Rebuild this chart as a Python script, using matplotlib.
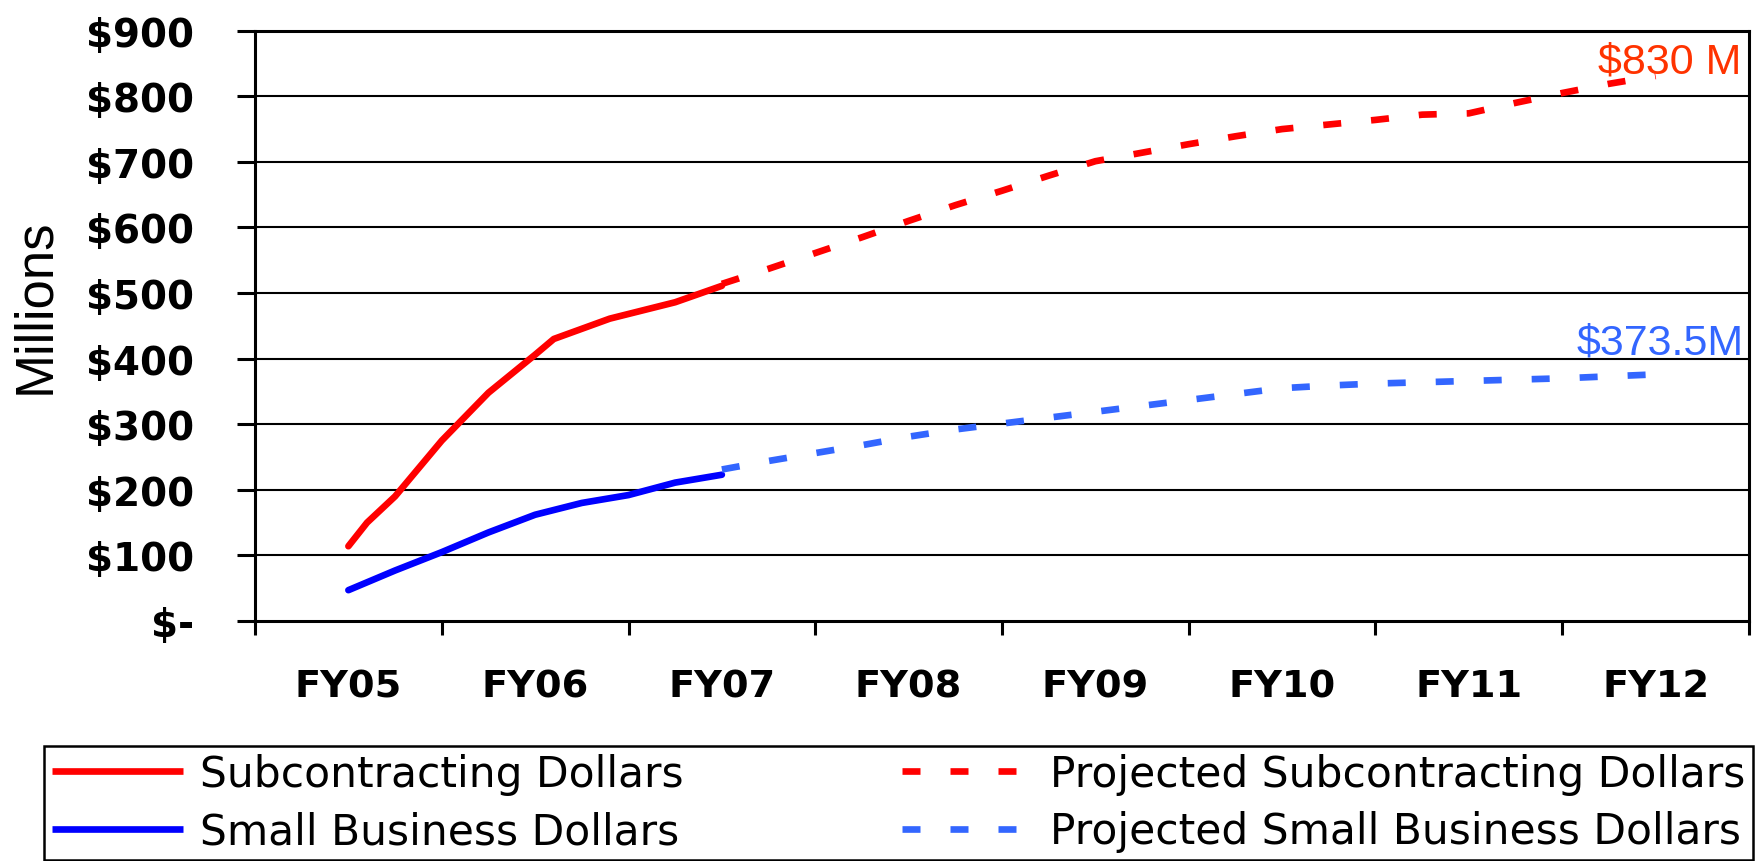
import matplotlib
matplotlib.use("Agg")
import matplotlib.pyplot as plt
from matplotlib.lines import Line2D
from matplotlib import font_manager as fm

# ---------------- data ----------------
fiscal_years = ["FY05", "FY06", "FY07", "FY08", "FY09", "FY10", "FY11", "FY12"]
y_ticks = [0, 100, 200, 300, 400, 500, 600, 700, 800, 900]
y_tick_labels = ["$-", "$100", "$200", "$300", "$400", "$500", "$600", "$700", "$800", "$900"]

# time in fiscal years after FY05
sub_time = [0, 0.1, 0.25, 0.5, 0.75, 1.0, 1.1, 1.4, 1.75, 2.0]
sub_dollars = [114, 150, 190, 275, 348, 406, 430, 461, 486, 511]

sb_time = [0, 0.25, 0.5, 0.75, 1.0, 1.25, 1.5, 1.75, 2.0]
sb_dollars = [47, 77, 105, 135, 162, 180, 192, 211, 223]

proj_time = [2.0, 2.25, 2.5, 2.75, 3.0, 3.25, 3.5, 3.75, 4.0, 4.25, 4.5,
             4.75, 5.0, 5.25, 5.5, 5.75, 6.0, 6.25, 6.5, 6.75, 7.0]
proj_sub_dollars = [514, 537, 561, 585, 610, 634, 656, 679, 701, 714, 727,
                    739, 750, 757, 764, 772, 774, 790, 805, 819, 831]
proj_sb_dollars = [231, 244, 256, 268, 281, 292, 301, 310, 319, 328, 337,
                   346, 355, 359, 362, 364, 366, 368, 370, 373, 376]

series_labels = ["Subcontracting Dollars", "Small Business Dollars",
                 "Projected Subcontracting Dollars", "Projected Small Business Dollars"]
end_labels = ["$830 M", "$373.5M"]
end_values = [836, 408]

# ---------------- style ----------------
W, H, DPI = 1762, 862, 100
RED, BLUE, LBLUE, ORANGE = "#FF0000", "#0000FF", "#3366FF", "#FF3300"
LW = 4.8
DASH = (2.7, 4.5)

installed = {f.name for f in fm.fontManager.ttflist}
if "Liberation Sans Narrow" in installed:
    NARROW = ["Liberation Sans Narrow", "DejaVu Sans"]
    ann_size, ylab_size = 34, 44
else:
    NARROW = ["Liberation Sans", "DejaVu Sans"]
    ann_size, ylab_size = 31, 38

fig = plt.figure(figsize=(W / DPI, H / DPI), dpi=DPI)
fig.patch.set_facecolor("white")
ax = fig.add_axes([255 / W, 1 - 622 / H, (1749 - 255) / W, (622 - 31.7) / H])

ax.set_xlim(-0.5, len(fiscal_years) - 0.5)
ax.set_ylim(0, 900)

# gridlines
for v in y_ticks[1:-1]:
    ax.axhline(v, color="black", lw=1.5, zorder=1)

ax.plot(sub_time, sub_dollars, color=RED, lw=LW, solid_capstyle="round",
        solid_joinstyle="round", zorder=3)
ax.plot(sb_time, sb_dollars, color=BLUE, lw=LW, solid_capstyle="round",
        solid_joinstyle="round", zorder=3)
ax.plot(proj_time, proj_sub_dollars, color=RED, lw=LW, dashes=DASH,
        dash_capstyle="butt", zorder=3)
ax.plot(proj_time, proj_sb_dollars, color=LBLUE, lw=LW, dashes=DASH,
        dash_capstyle="butt", zorder=3)

for sp in ax.spines.values():
    sp.set_color("black")
    sp.set_linewidth(2.2)

ax.set_yticks(y_ticks)
ax.set_yticklabels([s.replace("$", r"\$") for s in y_tick_labels])
ax.tick_params(axis="y", direction="out", length=13, width=2.2, pad=31,
               labelsize=28)
for t in ax.get_yticklabels():
    t.set_fontweight("bold")

ax.set_xticks(range(len(fiscal_years)))
ax.set_xticklabels(fiscal_years)
ax.set_xticks([i - 0.5 for i in range(len(fiscal_years) + 1)], minor=True)
ax.tick_params(axis="x", which="major", length=0, pad=34, labelsize=27.5)
ax.tick_params(axis="x", which="minor", direction="out", length=10, width=2.2)
for t in ax.get_xticklabels():
    t.set_fontweight("bold")

# end annotations
ax.text(7.46, end_values[0], end_labels[0].replace("$", r"\$"), ha="right",
        va="baseline", fontsize=ann_size, color=ORANGE, family=NARROW, zorder=4)
ax.text(7.47, end_values[1], end_labels[1].replace("$", r"\$"), ha="right",
        va="baseline", fontsize=ann_size, color=LBLUE, family=NARROW, zorder=4)

# y axis title
fig.text(35 / W, 1 - 306 / H, "Millions", rotation=90, ha="center", va="center",
         fontsize=ylab_size, family=NARROW)

# legend
h1 = Line2D([], [], color=RED, lw=LW, solid_capstyle="butt")
h2 = Line2D([], [], color=BLUE, lw=LW, solid_capstyle="butt")
h3 = Line2D([], [], color=RED, lw=LW, dashes=DASH, dash_capstyle="butt")
h4 = Line2D([], [], color=LBLUE, lw=LW, dashes=DASH, dash_capstyle="butt")
leg = fig.legend([h1, h2, h3, h4], series_labels, ncol=2, mode="expand",
                 loc="lower center",
                 bbox_to_anchor=(44 / W, 1.0 / H, (1753 - 44) / W, 120 / H),
                 fontsize=30.5, frameon=True, fancybox=False, framealpha=1,
                 edgecolor="black", borderpad=0.18, labelspacing=0.36,
                 handlelength=3.1, handletextpad=0.4, borderaxespad=0)
leg.get_frame().set_linewidth(1.8)

fig.savefig("out.png", dpi=DPI, facecolor="white")
